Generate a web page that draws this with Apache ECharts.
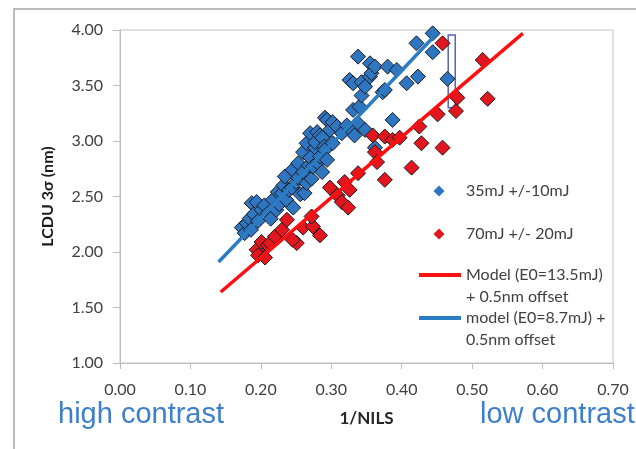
<!DOCTYPE html>
<html>
<head>
<meta charset="utf-8">
<script src="https://cdn.jsdelivr.net/npm/echarts@6/dist/echarts.min.js"></script>
<style>
  html, body { margin: 0; padding: 0; background: #fff; }
  #chart { width: 636px; height: 449px; }
</style>
</head>
<body>
<div id="chart"></div>
<script>
  // measured points, 1/NILS vs LCDU 3sigma (nm)
  var lowDose = [
    [0.173,2.22],[0.177,2.17],[0.180,2.26],[0.184,2.30],[0.186,2.20],[0.187,2.44],[0.190,2.34],
    [0.194,2.45],[0.196,2.28],[0.201,2.38],[0.205,2.42],[0.210,2.35],[0.214,2.30],[0.217,2.47],
    [0.222,2.38],[0.224,2.54],[0.226,2.43],[0.230,2.53],[0.232,2.60],[0.234,2.68],[0.236,2.47],
    [0.240,2.56],[0.244,2.58],[0.245,2.74],[0.246,2.40],[0.250,2.63],[0.253,2.80],[0.253,2.67],
    [0.256,2.52],[0.260,2.72],[0.260,2.90],[0.262,2.53],[0.265,2.62],[0.265,2.98],[0.268,2.78],
    [0.270,2.85],[0.270,3.07],[0.272,2.66],[0.274,2.77],[0.277,2.94],[0.277,2.99],[0.280,3.08],
    [0.281,2.80],[0.284,2.86],[0.284,3.05],[0.287,2.72],[0.287,3.03],[0.290,2.95],[0.291,2.92],
    [0.291,3.21],[0.294,2.83],[0.294,3.19],[0.298,3.10],[0.302,3.17],[0.302,2.98],[0.308,3.13],
    [0.315,3.07],[0.322,3.14],[0.326,3.55],[0.331,3.52],[0.331,3.08],[0.331,3.28],[0.333,3.05],
    [0.338,3.76],[0.338,3.16],[0.340,3.31],[0.343,3.53],[0.343,3.41],[0.348,3.49],[0.348,3.10],
    [0.355,3.70],[0.355,3.58],[0.357,3.61],[0.362,3.67],[0.362,2.94],[0.373,3.44],[0.376,3.46],
    [0.380,3.67],[0.387,3.19],[0.393,3.64],[0.407,3.52],[0.421,3.88],[0.423,3.58],[0.444,3.97],
    [0.444,3.80],[0.465,3.56]
  ];
  var highDose = [
    [0.194,2.02],[0.201,2.09],[0.196,1.97],[0.206,1.95],[0.210,2.06],[0.213,2.08],[0.220,2.14],
    [0.230,2.20],[0.237,2.29],[0.251,2.08],[0.245,2.11],[0.260,2.22],[0.274,2.23],[0.272,2.32],
    [0.284,2.15],[0.298,2.58],[0.309,2.51],[0.315,2.45],[0.324,2.40],[0.319,2.63],[0.326,2.56],
    [0.338,2.71],[0.376,2.65],[0.359,3.05],[0.376,3.04],[0.387,3.01],[0.397,3.03],[0.362,2.90],
    [0.365,2.81],[0.414,2.76],[0.425,3.13],[0.428,2.98],[0.458,2.94],[0.451,3.24],[0.477,3.27],
    [0.479,3.39],[0.522,3.38],[0.515,3.73],[0.458,3.88]
  ];
  // model curves
  var modelHigh = [[0.143,1.64],[0.300,2.49],[0.450,3.31],[0.572,3.97]];
  var modelLow = [[0.140,1.91],[0.250,2.64],[0.350,3.30],[0.444,3.93]];
  // highlighted gap box: [x1, y1], [x2, y2]
  var gapBox = [[0.466,3.955],[0.476,3.30]];

  var seriesNames = ['35mJ +/-10mJ', '70mJ +/- 20mJ',
    'Model (E0=13.5mJ)\n+ 0.5nm offset', 'model (E0=8.7mJ) +\n0.5nm offset'];

  var font = 'Lato';
  var legendText = { fontFamily: font, fontSize: 16, color: '#404040' };
  var legendTextMulti = { fontFamily: font, fontSize: 16, color: '#404040', lineHeight: 22 };
  // small diamond sitting in a 40px wide icon box, so the text lines up with the line icons
  var diamondIcon = 'path://M0,5.5L0.1,5.5M20,0L25.5,5.5L20,11L14.5,5.5ZM41.9,5.5L42,5.5';
  // blank first line puts the icon next to the first line of text
  var firstLine = function (name) { return ' \n' + name; };

  var chart = echarts.init(document.getElementById('chart'));
  chart.setOption({
    animation: false,
    grid: { left: 120, right: 23, top: 30, bottom: 86, show: true, borderColor: '#c4c4c4', borderWidth: 1 },
    legend: [
      { data: [seriesNames[0]], left: 414, top: 178, icon: diamondIcon, itemWidth: 42, itemHeight: 11, itemStyle: { borderWidth: 0 }, textStyle: legendText },
      { data: [seriesNames[1]], left: 414, top: 221, icon: diamondIcon, itemWidth: 42, itemHeight: 11, itemStyle: { borderWidth: 0 }, textStyle: legendText },
      { data: [seriesNames[2]], left: 414, top: 237, icon: 'rect', itemWidth: 42, itemHeight: 4, formatter: firstLine, textStyle: legendTextMulti },
      { data: [seriesNames[3]], left: 414, top: 280, icon: 'rect', itemWidth: 42, itemHeight: 4, formatter: firstLine, textStyle: legendTextMulti }
    ],
    xAxis: {
      type: 'value', min: 0, max: 0.7, interval: 0.1,
      name: '1/NILS', nameLocation: 'middle', nameGap: 47,
      nameTextStyle: { fontFamily: font, fontSize: 17, fontWeight: 'bold', color: '#262626' },
      axisLine: { lineStyle: { color: '#bdbdbd', width: 1 } },
      axisTick: { show: true, inside: false, length: 6, lineStyle: { color: '#bdbdbd' } },
      axisLabel: { fontFamily: font, fontSize: 16, color: '#404040', margin: 19, formatter: function (v) { return v.toFixed(2); } },
      splitLine: { show: false }
    },
    yAxis: {
      type: 'value', min: 1, max: 4, interval: 0.5,
      name: 'LCDU 3σ (nm)', nameLocation: 'middle', nameGap: 64,
      nameTextStyle: { fontFamily: font, fontSize: 16, fontWeight: 'bold', color: '#1a1a1a' },
      axisLine: { show: true, lineStyle: { color: '#bdbdbd', width: 1 } },
      axisTick: { show: true, inside: false, length: 7, lineStyle: { color: '#bdbdbd' } },
      axisLabel: { fontFamily: font, fontSize: 16, color: '#404040', margin: 17, formatter: function (v) { return v.toFixed(2); } },
      splitLine: { show: false }
    },
    graphic: [
      { type: 'rect', shape: { x: 14, y: 9, width: 700, height: 600 }, style: { fill: 'none', stroke: '#a6a6a6', lineWidth: 1.5 }, silent: true },
      { type: 'text', left: 58, top: 400, style: { text: 'high contrast', fontFamily: 'Liberation Sans', fontSize: 29, fill: '#3d7fc9' } },
      { type: 'text', left: 480, top: 400, style: { text: 'low contrast', fontFamily: 'Liberation Sans', fontSize: 29, fill: '#3d7fc9' } }
    ],
    series: [
      {
        name: seriesNames[0], type: 'scatter', data: lowDose,
        symbol: 'diamond', symbolSize: 15,
        itemStyle: { color: '#2e75c2', borderColor: '#1a1a1a', borderWidth: 1, opacity: 1 }
      },
      {
        name: seriesNames[1], type: 'scatter', data: highDose,
        symbol: 'diamond', symbolSize: 15,
        itemStyle: { color: '#e3151f', borderColor: '#1a1a1a', borderWidth: 1, opacity: 1 }
      },
      {
        name: seriesNames[2], type: 'line', data: modelHigh, symbol: 'none', smooth: true,
        lineStyle: { color: '#ff1010', width: 3.5 }, itemStyle: { color: '#ff1010' }
      },
      {
        name: seriesNames[3], type: 'line', data: modelLow, symbol: 'none', smooth: true,
        lineStyle: { color: '#2a7cc4', width: 3.5 }, itemStyle: { color: '#2a7cc4' },
        markArea: {
          silent: true,
          itemStyle: { color: 'rgba(255,255,255,0.35)', borderColor: '#5563c4', borderWidth: 1.5 },
          data: [[{ coord: gapBox[0] }, { coord: gapBox[1] }]]
        }
      }
    ]
  });
</script>
</body>
</html>
